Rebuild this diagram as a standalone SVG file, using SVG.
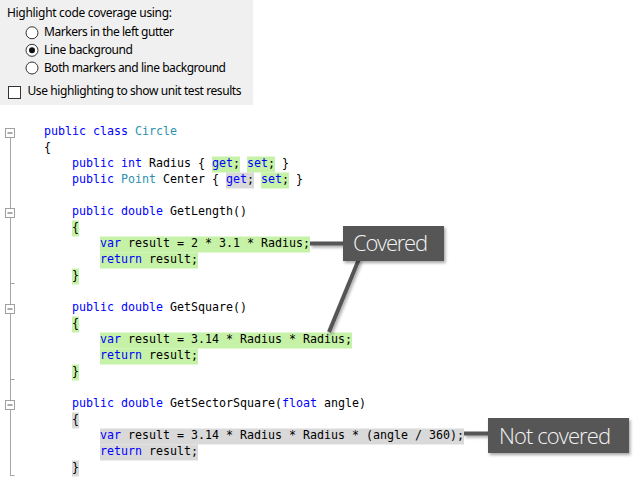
<svg xmlns="http://www.w3.org/2000/svg" width="636" height="485" viewBox="0 0 636 485">
<defs>
<filter id="sh" x="-20%" y="-30%" width="150%" height="180%">
<feDropShadow dx="1.5" dy="2" stdDeviation="1.5" flood-color="#000" flood-opacity="0.35"/>
</filter>
<style>
.ui{font-family:"Noto Sans","Open Sans","Liberation Sans",sans-serif;font-size:12px;fill:#000}
.code{font-family:"DejaVu Sans Mono","Liberation Mono",monospace;font-size:11.63px;fill:#000;white-space:pre}
.kw{fill:#0000ff}
.ty{fill:#2b91af}
.hg{fill:#c6f2a8}
.hn{fill:#d9d9d9}
.gl{stroke:#a5a5a5;stroke-width:1;fill:none}
.gb{fill:#fff;stroke:#a0a0a0;stroke-width:1}
.gm{stroke:#555;stroke-width:1}
.box{fill:#575757}
.lbl{font-family:"Open Sans","Noto Sans","Liberation Sans",sans-serif;font-weight:300;font-size:22px;fill:#f4f4f4}
.con{stroke:#555;stroke-width:4;fill:none}
.rb{fill:#fff;stroke:#333;stroke-width:1}
</style>
</defs>
<rect width="636" height="485" fill="#fff"/>

<g id="options">
<rect x="0" y="0" width="253" height="105" fill="#f0f0f0"/>
<text class="ui" x="7" y="16.5" textLength="165">Highlight code coverage using:</text>
<circle class="rb" cx="32" cy="32.8" r="6"/>
<text class="ui" x="44" y="36.3" textLength="130">Markers in the left gutter</text>
<circle class="rb" cx="32" cy="50.3" r="6"/>
<circle cx="32" cy="50.3" r="3" fill="#111"/>
<text class="ui" x="44" y="53.8" textLength="89">Line background</text>
<circle class="rb" cx="32" cy="68" r="6"/>
<text class="ui" x="44" y="71.7" textLength="182">Both markers and line background</text>
<rect class="rb" x="8.5" y="86.5" width="12" height="12"/>
<text class="ui" x="27.5" y="95.3" textLength="214">Use highlighting to show unit test results</text>
</g>

<g id="gutter">
<line class="gl" x1="10.5" y1="137" x2="10.5" y2="476"/>
<line class="gl" x1="10.5" y1="283.5" x2="14.5" y2="283.5"/>
<line class="gl" x1="10.5" y1="379.5" x2="14.5" y2="379.5"/>
<line class="gl" x1="10.5" y1="475.5" x2="14.5" y2="475.5"/>
<rect class="gb" x="5.5" y="128.5" width="9" height="9"/>
<line class="gm" x1="7.5" y1="133" x2="12.5" y2="133"/>
<rect class="gb" x="5.5" y="208.5" width="9" height="9"/>
<line class="gm" x1="7.5" y1="213" x2="12.5" y2="213"/>
<rect class="gb" x="5.5" y="304.5" width="9" height="9"/>
<line class="gm" x1="7.5" y1="309" x2="12.5" y2="309"/>
<rect class="gb" x="5.5" y="400.5" width="9" height="9"/>
<line class="gm" x1="7.5" y1="405" x2="12.5" y2="405"/>
</g>

<g id="highlights">
<rect class="hg" x="212" y="156.5" width="28" height="16"/>
<rect class="hg" x="247" y="156.5" width="28" height="16"/>
<rect class="hn" x="226" y="172.5" width="28" height="16"/>
<rect class="hg" x="261" y="172.5" width="28" height="16"/>

<rect class="hg" x="72" y="220.5" width="7" height="16"/>
<rect class="hg" x="100" y="236.5" width="210" height="16"/>
<rect class="hg" x="100" y="252.5" width="98" height="16"/>
<rect class="hg" x="72" y="268.5" width="7" height="16"/>

<rect class="hg" x="72" y="316.5" width="7" height="16"/>
<rect class="hg" x="100" y="332.5" width="252" height="16"/>
<rect class="hg" x="100" y="348.5" width="98" height="16"/>
<rect class="hg" x="72" y="364.5" width="7" height="16"/>

<rect class="hn" x="72" y="412.5" width="7" height="16"/>
<rect class="hn" x="100" y="428.5" width="364" height="16"/>
<rect class="hn" x="100" y="444.5" width="98" height="16"/>
<rect class="hn" x="72" y="460.5" width="7" height="16"/>
</g>

<g id="code" class="code" xml:space="preserve">
<text x="44" y="135"><tspan class="kw">public</tspan> <tspan class="kw">class</tspan> <tspan class="ty">Circle</tspan></text>
<text x="44" y="151">{</text>
<text x="72" y="167"><tspan class="kw">public</tspan> <tspan class="kw">int</tspan> Radius { <tspan class="kw">get</tspan>; <tspan class="kw">set</tspan>; }</text>
<text x="72" y="183"><tspan class="kw">public</tspan> <tspan class="ty">Point</tspan> Center { <tspan class="kw">get</tspan>; <tspan class="kw">set</tspan>; }</text>
<text x="72" y="215"><tspan class="kw">public</tspan> <tspan class="kw">double</tspan> GetLength()</text>
<text x="72" y="231">{</text>
<text x="100" y="247"><tspan class="kw">var</tspan> result = 2 * 3.1 * Radius;</text>
<text x="100" y="263"><tspan class="kw">return</tspan> result;</text>
<text x="72" y="279">}</text>
<text x="72" y="311"><tspan class="kw">public</tspan> <tspan class="kw">double</tspan> GetSquare()</text>
<text x="72" y="327">{</text>
<text x="100" y="343"><tspan class="kw">var</tspan> result = 3.14 * Radius * Radius;</text>
<text x="100" y="359"><tspan class="kw">return</tspan> result;</text>
<text x="72" y="375">}</text>
<text x="72" y="407"><tspan class="kw">public</tspan> <tspan class="kw">double</tspan> GetSectorSquare(<tspan class="kw">float</tspan> angle)</text>
<text x="72" y="423">{</text>
<text x="100" y="439"><tspan class="kw">var</tspan> result = 3.14 * Radius * Radius * (angle / 360);</text>
<text x="100" y="455"><tspan class="kw">return</tspan> result;</text>
<text x="72" y="471">}</text>
</g>

<g id="connectors" filter="url(#sh)">
<line class="con" x1="310" y1="243.5" x2="344" y2="243.5"/>
<line class="con" x1="359" y1="259" x2="329" y2="332"/>
<line class="con" x1="464" y1="433.5" x2="489" y2="433.5"/>
</g>

<g id="covered">
<rect class="box" x="343" y="226" width="101" height="35" filter="url(#sh)"/>
<text class="lbl" x="353" y="251" textLength="75">Covered</text>
</g>

<g id="not-covered">
<rect class="box" x="488" y="418" width="141" height="35" filter="url(#sh)"/>
<text class="lbl" x="499" y="443.5" textLength="112">Not covered</text>
</g>
</svg>
